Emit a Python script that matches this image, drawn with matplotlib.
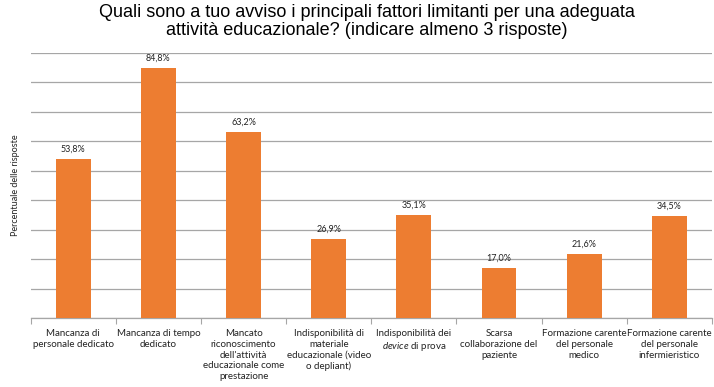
import matplotlib
matplotlib.use("Agg")
import matplotlib.pyplot as plt
import numpy as np

categories = [
    "Mancanza di\npersonale dedicato",
    "Mancanza di tempo\ndedicato",
    "Mancato\nriconoscimento\ndell'attività\neducazionale come\nprestazione",
    "Indisponibilità di\nmateriale\neducazionale (video\no depliant)",
    "Indisponibilità dei\n$\\it{device}$ di prova",
    "Scarsa\ncollaborazione del\npaziente",
    "Formazione carente\ndel personale\nmedico",
    "Formazione carente\ndel personale\ninfermieristico",
]
values = [53.8, 84.8, 63.2, 26.9, 35.1, 17.0, 21.6, 34.5]
labels = ["53,8%", "84,8%", "63,2%", "26,9%", "35,1%", "17,0%", "21,6%", "34,5%"]

plt.rcParams['mathtext.fontset'] = 'custom'
plt.rcParams['mathtext.it'] = 'Lato:italic'
plt.rcParams['mathtext.rm'] = 'Lato'

fig = plt.figure(figsize=(7.14, 3.87), dpi=100)
ax = fig.add_axes([0.043, 0.178, 0.954, 0.686])

x = np.arange(len(values))
ax.bar(x, values, width=0.41, color="#ED7D31", zorder=3)
ax.set_xlim(-0.5, len(values) - 0.5)
ax.set_ylim(0, 90)
ax.set_yticks(np.arange(0, 91, 10))
ax.yaxis.grid(True, color="#A6A6A6", linewidth=0.9, zorder=0)
ax.tick_params(axis='y', left=False, labelleft=False)
for s in ["top", "right", "left"]:
    ax.spines[s].set_visible(False)
ax.spines["bottom"].set_color("#A6A6A6")
ax.spines["bottom"].set_linewidth(0.9)

ax.set_xticks(np.arange(-0.5, len(values), 1.0), minor=False)
ax.set_xticklabels([])
ax.tick_params(axis='x', which='major', direction='out', length=4, color="#A6A6A6")
ax.set_xticks(x, minor=True)
ax.set_xticklabels(categories, minor=True, fontsize=7, family='Lato', linespacing=1.25, color="#222222")
ax.tick_params(axis='x', which='minor', length=0, pad=8)

for xi, v, lab in zip(x, values, labels):
    ax.text(xi, v + 1.8, lab, ha='center', va='bottom', fontsize=6.5, family='Lato', color="#222222")

ax.set_ylabel("Percentuale delle risposte", fontsize=6.5, family='Lato', labelpad=8, color="#222222")

fig.text(0.514, 0.99, "Quali sono a tuo avviso i principali fattori limitanti per una adeguata\nattività educazionale? (indicare almeno 3 risposte)",
         ha='center', va='top', fontsize=13, family='Liberation Sans', linespacing=1.12)

fig.savefig("out.png", dpi=100)
